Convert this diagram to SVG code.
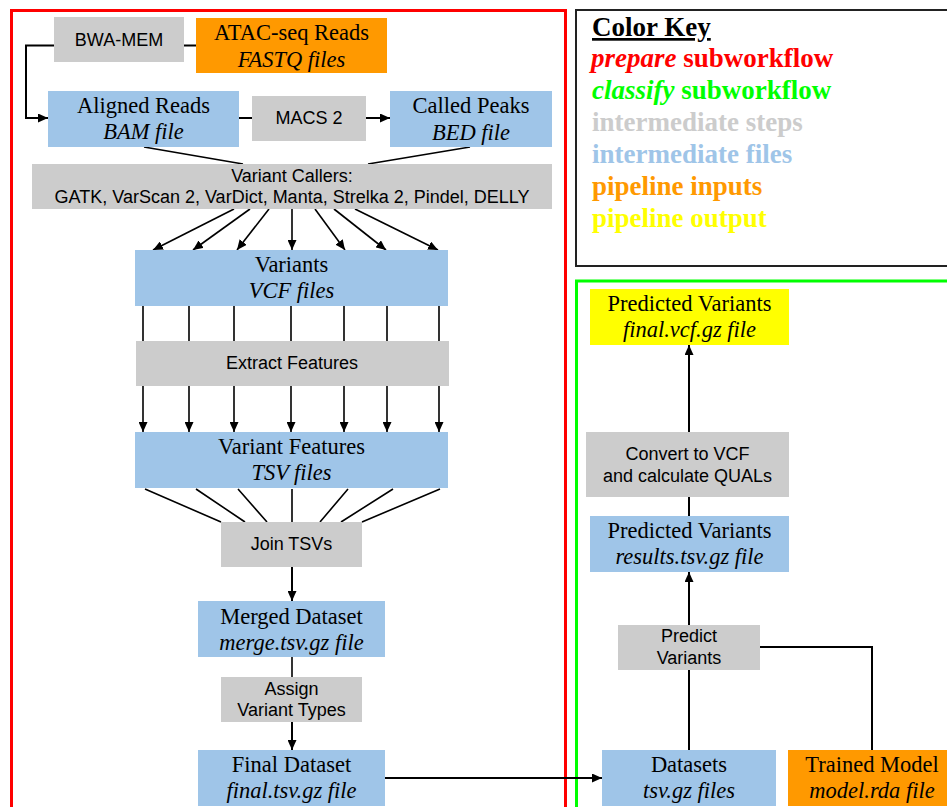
<svg xmlns="http://www.w3.org/2000/svg" width="947" height="807" viewBox="0 0 947 807">
<defs>
<marker id="ah" markerWidth="10" markerHeight="9" refX="10" refY="4.5" orient="auto" markerUnits="userSpaceOnUse">
<path d="M0,0 L10,4.5 L0,9 z" fill="#000"/>
</marker>
<style>
.step{fill:#cccccc}
.file{fill:#9fc5e8}
.inp{fill:#ff9900}
.out{fill:#ffff00}
.s{font-family:"Liberation Sans",Arial,sans-serif;font-size:18px;fill:#000;text-anchor:middle}
.t{font-family:"Liberation Serif","Times New Roman",serif;font-size:22.5px;fill:#000;text-anchor:middle}
.i{font-style:italic}
.k{font-family:"Liberation Serif","Times New Roman",serif;font-size:27px;font-weight:bold}
.c{fill:none;stroke:#000;stroke-width:2}
.f{fill:none;stroke:#000;stroke-width:1.6}
</style>
</defs>
<rect width="947" height="807" fill="#fff"/>
<g id="frames">
<rect x="11.5" y="10.5" width="554" height="820" fill="none" stroke="#ff0000" stroke-width="3"/>
<rect x="576" y="10" width="400" height="256" fill="none" stroke="#222" stroke-width="2"/>
<rect x="576.5" y="281" width="400" height="560" fill="none" stroke="#00ff00" stroke-width="3"/>
</g>
<g id="key">
<text x="592" y="36" class="k" fill="#000" text-decoration="underline">Color Key</text>
<text x="591" y="67" class="k" fill="#ff0000"><tspan font-style="italic">prepare</tspan> subworkflow</text>
<text x="592" y="99" class="k" fill="#00ff00"><tspan font-style="italic">classify</tspan> subworkflow</text>
<text x="592" y="131" class="k" fill="#cccccc">intermediate steps</text>
<text x="592" y="163" class="k" fill="#9fc5e8">intermediate files</text>
<text x="592" y="195" class="k" fill="#ff9900">pipeline inputs</text>
<text x="592" y="227" class="k" fill="#ffff00">pipeline output</text>
</g>
<g id="connectors">
<path class="c" d="M196,45.5 H184"/>
<path class="c" d="M54,45.5 H26 V118 H48" marker-end="url(#ah)"/>
<path class="c" d="M239,118 H252"/>
<path class="c" d="M366,118 H390" marker-end="url(#ah)"/>
<path class="f" d="M144,147 L243,164"/>
<path class="f" d="M470,147 L368,164"/>
<path class="f" d="M234,209 L153,250" marker-end="url(#ah)"/>
<path class="f" d="M250,209 L193,250" marker-end="url(#ah)"/>
<path class="f" d="M269,209 L237,250" marker-end="url(#ah)"/>
<path class="f" d="M292,209 L292,250" marker-end="url(#ah)"/>
<path class="f" d="M315,209 L345,250" marker-end="url(#ah)"/>
<path class="f" d="M334,209 L386,250" marker-end="url(#ah)"/>
<path class="f" d="M355,209 L438,250" marker-end="url(#ah)"/>
<path class="f" d="M143,306 V342 M189,306 V342 M234,306 V342 M291,306 V342 M344,306 V342 M387,306 V342 M439,306 V342"/>
<path class="f" d="M143,386 V432" marker-end="url(#ah)"/>
<path class="f" d="M189,386 V432" marker-end="url(#ah)"/>
<path class="f" d="M234,386 V432" marker-end="url(#ah)"/>
<path class="f" d="M291,386 V432" marker-end="url(#ah)"/>
<path class="f" d="M344,386 V432" marker-end="url(#ah)"/>
<path class="f" d="M387,386 V432" marker-end="url(#ah)"/>
<path class="f" d="M439,386 V432" marker-end="url(#ah)"/>
<path class="f" d="M145,489 L221,522 M196,489 L245,522 M238,489 L267,522 M292,489 L292,522 M348,489 L320,522 M393,489 L341,522 M440,489 L362,522"/>
<path class="c" d="M292,567 V601" marker-end="url(#ah)"/>
<path class="f" d="M292,657 V677"/>
<path class="c" d="M292,722 V750" marker-end="url(#ah)"/>
<path class="c" d="M385,778 H602" marker-end="url(#ah)"/>
<path class="c" d="M689,750 V669"/>
<path class="c" d="M689,625 V572" marker-end="url(#ah)"/>
<path class="c" d="M760,647 H872 V750"/>
<path class="c" d="M689,516 V497"/>
<path class="c" d="M689,432 V345" marker-end="url(#ah)"/>
</g>
<g id="bwa"><rect class="step" x="54" y="17" width="130" height="45"/><text class="s" x="119" y="46">BWA-MEM</text></g>
<g id="atac"><rect class="inp" x="196" y="18" width="191" height="55"/><text class="t" x="291.5" y="40">ATAC-seq Reads</text><text class="t i" x="291.5" y="67">FASTQ files</text></g>
<g id="aligned"><rect class="file" x="48" y="91" width="191" height="56"/><text class="t" x="143.5" y="113">Aligned Reads</text><text class="t i" x="143.5" y="139">BAM file</text></g>
<g id="macs"><rect class="step" x="252" y="96" width="114" height="45"/><text class="s" x="309" y="124">MACS 2</text></g>
<g id="peaks"><rect class="file" x="390" y="91" width="162" height="56"/><text class="t" x="471" y="113">Called Peaks</text><text class="t i" x="471" y="140">BED file</text></g>
<g id="callers"><rect class="step" x="32" y="164" width="520" height="45"/><text class="s" x="292" y="182">Variant Callers:</text><text class="s" x="292" y="203">GATK, VarScan 2, VarDict, Manta, Strelka 2, Pindel, DELLY</text></g>
<g id="variants"><rect class="file" x="135" y="250" width="313" height="56"/><text class="t" x="291.5" y="272">Variants</text><text class="t i" x="291.5" y="298">VCF files</text></g>
<g id="extract"><rect class="step" x="136" y="341" width="313" height="45"/><text class="s" x="292" y="369">Extract Features</text></g>
<g id="features"><rect class="file" x="135" y="432" width="313" height="56"/><text class="t" x="291.5" y="454">Variant Features</text><text class="t i" x="291.5" y="480">TSV files</text></g>
<g id="join"><rect class="step" x="221" y="522" width="141" height="45"/><text class="s" x="291.5" y="550">Join TSVs</text></g>
<g id="merged"><rect class="file" x="198" y="601" width="187" height="56"/><text class="t" x="291.5" y="624">Merged Dataset</text><text class="t i" x="291.5" y="650">merge.tsv.gz file</text></g>
<g id="assign"><rect class="step" x="221" y="677" width="141" height="45"/><text class="s" x="291.5" y="695">Assign</text><text class="s" x="291.5" y="716">Variant Types</text></g>
<g id="final"><rect class="file" x="198" y="750" width="187" height="56"/><text class="t" x="291.5" y="772">Final Dataset</text><text class="t i" x="291.5" y="798">final.tsv.gz file</text></g>
<g id="predvcf"><rect class="out" x="590" y="289" width="199" height="56"/><text class="t" x="689.5" y="311">Predicted Variants</text><text class="t i" x="689.5" y="337">final.vcf.gz file</text></g>
<g id="convert"><rect class="step" x="586" y="432" width="203" height="65"/><text class="s" x="687.5" y="460">Convert to VCF</text><text class="s" x="687.5" y="482">and calculate QUALs</text></g>
<g id="predtsv"><rect class="file" x="590" y="516" width="199" height="56"/><text class="t" x="689.5" y="538">Predicted Variants</text><text class="t i" x="689.5" y="564">results.tsv.gz file</text></g>
<g id="predict"><rect class="step" x="618" y="625" width="142" height="45"/><text class="s" x="689" y="642">Predict</text><text class="s" x="689" y="664">Variants</text></g>
<g id="datasets"><rect class="file" x="602" y="750" width="174" height="56"/><text class="t" x="689" y="772">Datasets</text><text class="t i" x="689" y="798">tsv.gz files</text></g>
<g id="model"><rect class="inp" x="788" y="750" width="168" height="56"/><text class="t" x="872" y="772">Trained Model</text><text class="t i" x="872" y="798">model.rda file</text></g>
</svg>
